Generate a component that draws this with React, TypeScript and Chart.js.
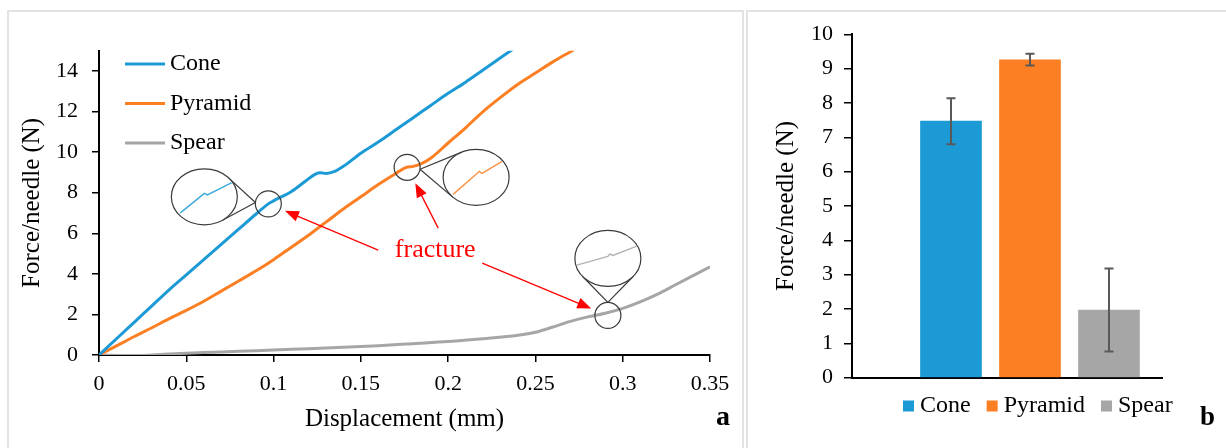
import React, { useEffect, useRef } from "react";
import { Chart, registerables } from "chart.js";

Chart.register(...registerables);

const FONT = "'Liberation Serif', 'Times New Roman', serif";

// ---------- series ----------
const seriesNames = ["Cone", "Pyramid", "Spear"];
const seriesColors = ["#1c9ad6", "#fd7f23", "#a6a6a6"];

// Panel a: force vs displacement curves
const coneX = [0, 0.01, 0.02, 0.03, 0.04, 0.05, 0.06, 0.07, 0.08, 0.09, 0.097, 0.1, 0.11, 0.118, 0.124, 0.127, 0.13, 0.135, 0.14, 0.15, 0.16, 0.17, 0.18, 0.19, 0.2, 0.21, 0.22, 0.23, 0.24];
const coneY = [0, 0.8, 1.6, 2.4, 3.2, 3.95, 4.7, 5.45, 6.2, 6.95, 7.45, 7.6, 8.05, 8.55, 8.92, 8.98, 8.95, 9.05, 9.3, 9.95, 10.5, 11.1, 11.7, 12.3, 12.9, 13.45, 14.05, 14.65, 15.25];

const pyramidX = [0, 0.01, 0.02, 0.03, 0.04, 0.05, 0.06, 0.07, 0.08, 0.09, 0.1, 0.11, 0.12, 0.13, 0.14, 0.15, 0.16, 0.17, 0.176, 0.18, 0.185, 0.19, 0.2, 0.21, 0.22, 0.23, 0.24, 0.25, 0.26, 0.27, 0.275];
const pyramidY = [0, 0.45, 0.9, 1.33, 1.78, 2.2, 2.65, 3.15, 3.65, 4.15, 4.7, 5.3, 5.9, 6.55, 7.2, 7.8, 8.4, 8.95, 9.25, 9.3, 9.45, 9.7, 10.45, 11.2, 12.0, 12.7, 13.35, 13.9, 14.45, 14.95, 15.2];

const spearX = [0, 0.02, 0.04, 0.06, 0.08, 0.1, 0.12, 0.14, 0.16, 0.18, 0.2, 0.22, 0.24, 0.25, 0.26, 0.27, 0.28, 0.29, 0.3, 0.31, 0.32, 0.33, 0.34, 0.35];
const spearY = [0, -0.03, 0.05, 0.12, 0.18, 0.25, 0.31, 0.38, 0.46, 0.56, 0.66, 0.8, 0.97, 1.12, 1.38, 1.66, 1.88, 2.06, 2.3, 2.62, 3.0, 3.45, 3.9, 4.35];

const curveX = [coneX, pyramidX, spearX];
const curveY = [coneY, pyramidY, spearY];

// Axis ranges / ticks, panel a
const dispMax = 0.35;
const dispStep = 0.05;
const forceMaxA = 15;
const forceStepA = 2;

// Fracture points (displacement, force) and label anchor
const fractureX = [0.097, 0.1765, 0.2915];
const fractureY = [7.45, 9.25, 1.95];
const fractureLabel = "fracture";
const fractureLabelX = 0.1926;
const fractureLabelY = 5.17;

// Panel b: max force per needle with error bars
const barValues = [7.47, 9.26, 1.97];
const barErrors = [0.67, 0.17, 1.21];
const forceMaxB = 10;
const forceStepB = 1;

// ---------- styles for decorations ----------
const insetOffsets = [[-64, -7], [69, 10], [0, -57]];
const insetTraces = [
  [[-24, 16], [-3, -1], [0, -3.5], [3, -2], [29, -15]],
  [[-23, 17], [0, -3], [3, -6], [6, -4], [26, -16]],
  [[-32, 7], [0, -2], [2, -4.5], [5, -3], [31, -13]],
];
const arrowStarts = [[-57, 0], [3, -22], [47, 13]];

const leftDecor = {
  id: "leftDecor",
  afterDatasetsDraw(chart: any) {
    const { ctx, chartArea } = chart;
    const xs = chart.scales.x;
    const ys = chart.scales.y;
    ctx.save();
    const R = 13, RX = 33, RY = 28;
    fractureX.forEach((fx, i) => {
      const cx = xs.getPixelForValue(fx);
      const cy = ys.getPixelForValue(fractureY[i]);
      const ex = cx + insetOffsets[i][0];
      const ey = cy + insetOffsets[i][1];
      ctx.strokeStyle = "#3a3a3a";
      ctx.lineWidth = 1.2;
      ctx.beginPath();
      ctx.arc(cx, cy, R, 0, Math.PI * 2);
      ctx.stroke();
      const dx = ex - cx, dy = ey - cy, dl = Math.hypot(dx, dy);
      const px = cx + (dx / dl) * R, py = cy + (dy / dl) * R;
      const ux = (px - ex) / RX, uy = (py - ey) / RY;
      const L = Math.hypot(ux, uy);
      const base = Math.atan2(uy, ux);
      const a = Math.acos(1 / L);
      [base + a, base - a].forEach((t) => {
        ctx.beginPath();
        ctx.moveTo(px, py);
        ctx.lineTo(ex + RX * Math.cos(t), ey + RY * Math.sin(t));
        ctx.stroke();
      });
      ctx.beginPath();
      ctx.ellipse(ex, ey, RX, RY, 0, 0, Math.PI * 2);
      ctx.fillStyle = "#fff";
      ctx.fill();
      ctx.stroke();
      ctx.save();
      ctx.beginPath();
      ctx.ellipse(ex, ey, RX - 1, RY - 1, 0, 0, Math.PI * 2);
      ctx.clip();
      ctx.globalAlpha = 0.85;
      ctx.strokeStyle = seriesColors[i];
      ctx.lineWidth = 1.4;
      ctx.beginPath();
      insetTraces[i].forEach(([ox, oy], k) => {
        if (k === 0) ctx.moveTo(ex + ox, ey + oy);
        else ctx.lineTo(ex + ox, ey + oy);
      });
      ctx.stroke();
      ctx.restore();
    });

    // fracture label and arrows
    const tx = xs.getPixelForValue(fractureLabelX);
    const ty = ys.getPixelForValue(fractureLabelY);
    ctx.fillStyle = "#ff0000";
    ctx.font = `26px ${FONT}`;
    ctx.textAlign = "center";
    ctx.textBaseline = "middle";
    ctx.fillText(fractureLabel, tx, ty);
    arrowStarts.forEach(([ox, oy], i) => {
      const sx = tx + ox, sy = ty + oy;
      const cx = xs.getPixelForValue(fractureX[i]);
      const cy = ys.getPixelForValue(fractureY[i]);
      const vx = sx - cx, vy = sy - cy, vl = Math.hypot(vx, vy);
      const hx = cx + (vx / vl) * 18, hy = cy + (vy / vl) * 18;
      const len = Math.hypot(hx - sx, hy - sy);
      const ax = (hx - sx) / len, ay = (hy - sy) / len;
      ctx.strokeStyle = "#ff0000";
      ctx.lineWidth = 1.3;
      ctx.beginPath();
      ctx.moveTo(sx, sy);
      ctx.lineTo(hx - ax * 11, hy - ay * 11);
      ctx.stroke();
      ctx.beginPath();
      ctx.moveTo(hx, hy);
      ctx.lineTo(hx - ax * 14 - ay * 5.5, hy - ay * 14 + ax * 5.5);
      ctx.lineTo(hx - ax * 14 + ay * 5.5, hy - ay * 14 - ax * 5.5);
      ctx.closePath();
      ctx.fill();
    });

    // legend
    ctx.textAlign = "left";
    ctx.textBaseline = "middle";
    ctx.font = `24px ${FONT}`;
    chart.data.datasets.forEach((ds: any, i: number) => {
      const y = chartArea.top + 13.3 + 39.5 * i;
      ctx.strokeStyle = ds.borderColor;
      ctx.lineWidth = 3;
      ctx.beginPath();
      ctx.moveTo(chartArea.left + 26, y);
      ctx.lineTo(chartArea.left + 66, y);
      ctx.stroke();
      ctx.fillStyle = "#000";
      ctx.fillText(ds.label, chartArea.left + 71, y);
    });

    // panel letter
    ctx.font = `bold 28px ${FONT}`;
    ctx.textBaseline = "alphabetic";
    ctx.fillText("a", 716, 425);
    ctx.restore();
  },
};

const rightDecor = {
  id: "rightDecor",
  afterDatasetsDraw(chart: any) {
    const { ctx, chartArea } = chart;
    const ys = chart.scales.y;
    const meta = chart.getDatasetMeta(0);
    ctx.save();
    ctx.strokeStyle = "#595959";
    ctx.lineWidth = 2;
    meta.data.forEach((bar: any, i: number) => {
      const x = bar.x;
      const top = ys.getPixelForValue(barValues[i] + barErrors[i]);
      const bot = ys.getPixelForValue(barValues[i] - barErrors[i]);
      ctx.beginPath();
      ctx.moveTo(x, top);
      ctx.lineTo(x, bot);
      ctx.moveTo(x - 4.5, top);
      ctx.lineTo(x + 4.5, top);
      ctx.moveTo(x - 4.5, bot);
      ctx.lineTo(x + 4.5, bot);
      ctx.stroke();
    });

    // legend
    ctx.font = `24px ${FONT}`;
    ctx.textAlign = "left";
    ctx.textBaseline = "middle";
    let lx = chartArea.left + 51;
    const ly = chartArea.bottom + 28.3;
    seriesNames.forEach((name, i) => {
      ctx.fillStyle = seriesColors[i];
      ctx.fillRect(lx, ly - 5.5, 11, 11);
      ctx.fillStyle = "#000";
      ctx.fillText(name, lx + 17, ly);
      lx += 17 + ctx.measureText(name).width + 16;
    });

    ctx.font = `bold 27px ${FONT}`;
    ctx.textBaseline = "alphabetic";
    ctx.fillText("b", 453, 425);
    ctx.restore();
  },
};

const tickFont = { family: FONT, size: 22 };
const titleFont = { family: FONT, size: 25 };

function LineChart() {
  const ref = useRef<HTMLCanvasElement>(null);
  useEffect(() => {
    const chart = new Chart(ref.current as HTMLCanvasElement, {
      type: "line",
      data: {
        datasets: seriesNames.map((name, i) => ({
          label: name,
          data: curveX[i].map((x, k) => ({ x, y: curveY[i][k] })),
          borderColor: seriesColors[i],
          backgroundColor: seriesColors[i],
          borderWidth: 3,
          pointRadius: 0,
          cubicInterpolationMode: "monotone",
          fill: false,
        })),
      },
      options: {
        animation: false,
        responsive: false,
        maintainAspectRatio: false,
        layout: { padding: { top: 50.7, right: 35, bottom: 0, left: 0 } },
        plugins: { legend: { display: false }, tooltip: { enabled: false } },
        scales: {
          x: {
            type: "linear",
            min: 0,
            max: dispMax,
            afterFit: (s: any) => { s.height = 93; },
            ticks: {
              stepSize: dispStep,
              color: "#000",
              font: tickFont,
              padding: 9,
              maxRotation: 0,
              callback: (v: any) => String(parseFloat(Number(v).toFixed(2))),
            },
            grid: { display: true, drawOnChartArea: false, drawTicks: true, tickLength: 7, color: "#000", lineWidth: 1.5 },
            border: { display: true, color: "#000", width: 2 },
            title: { display: true, text: "Displacement (mm)", color: "#000", font: titleFont, padding: { top: 0, bottom: 14 } },
          },
          y: {
            type: "linear",
            min: 0,
            max: forceMaxA,
            afterFit: (s: any) => { s.width = 99; },
            ticks: { stepSize: forceStepA, includeBounds: false, color: "#000", font: tickFont, padding: 14 },
            grid: { display: true, drawOnChartArea: false, drawTicks: true, tickLength: 7, color: "#000", lineWidth: 1.5 },
            border: { display: true, color: "#000", width: 2 },
            title: { display: true, text: "Force/needle (N)", color: "#000", font: titleFont, padding: { top: 17, bottom: 0 } },
          },
        },
      } as any,
      plugins: [leftDecor],
    });
    return () => chart.destroy();
  }, []);
  return <canvas ref={ref} width={745} height={448} style={{ position: "absolute", left: 0, top: 0 }} />;
}

function BarChart() {
  const ref = useRef<HTMLCanvasElement>(null);
  useEffect(() => {
    const chart = new Chart(ref.current as HTMLCanvasElement, {
      type: "bar",
      data: {
        datasets: [
          {
            label: "Force/needle",
            data: barValues.map((v, i) => ({ x: i + 1, y: v })),
            backgroundColor: seriesColors,
            borderWidth: 0,
            barThickness: 61,
          },
        ],
      },
      options: {
        animation: false,
        responsive: false,
        maintainAspectRatio: false,
        layout: { padding: { top: 34.3, right: 64, bottom: 0, left: 0 } },
        plugins: { legend: { display: false }, tooltip: { enabled: false } },
        scales: {
          x: {
            type: "linear",
            min: -0.253,
            max: 3.671,
            offset: false,
            afterFit: (s: any) => { s.height = 70.3; },
            ticks: { display: false },
            grid: { display: false, offset: false },
            border: { display: true, color: "#000", width: 2 },
          },
          y: {
            type: "linear",
            min: 0,
            max: forceMaxB,
            afterFit: (s: any) => { s.width = 105; },
            ticks: { stepSize: forceStepB, color: "#000", font: tickFont, padding: 11 },
            grid: { display: true, drawOnChartArea: false, drawTicks: true, tickLength: 8, color: "#000", lineWidth: 1.5 },
            border: { display: true, color: "#000", width: 2 },
            title: { display: true, text: "Force/needle (N)", color: "#000", font: titleFont, padding: { top: 24, bottom: 0 } },
          },
        },
      } as any,
      plugins: [rightDecor],
    });
    return () => chart.destroy();
  }, []);
  return <canvas ref={ref} width={479} height={448} style={{ position: "absolute", left: 747, top: 0 }} />;
}

export default function App() {
  return (
    <div style={{ position: "fixed", left: 0, top: 0, width: 1226, height: 448, overflow: "hidden", background: "#fff" }}>
      <div style={{ position: "absolute", left: 7, top: 10, width: 737, height: 460, border: "2px solid #e3e3e3", boxSizing: "border-box" }} />
      <div style={{ position: "absolute", left: 746, top: 10, width: 500, height: 460, border: "2px solid #e3e3e3", boxSizing: "border-box" }} />
      <LineChart />
      <BarChart />
    </div>
  );
}
